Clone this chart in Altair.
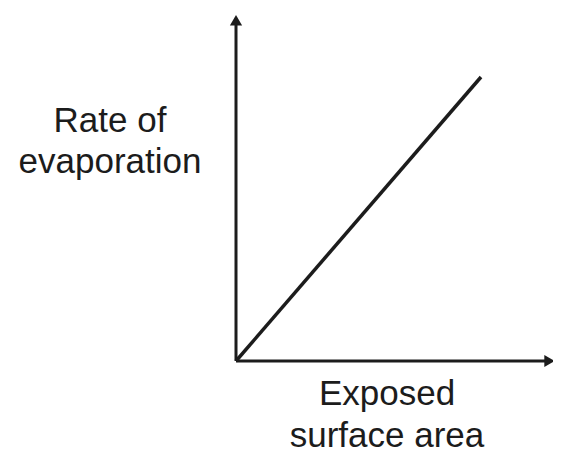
import altair as alt
import pandas as pd

# data
line_x = [0, 10]
line_y = [0, 10]
x_axis_end = 12.8
y_axis_end = 12.0
y_label_lines = ["Rate of", "evaporation"]
x_label_lines = ["Exposed", "surface area"]

INK = "#1c1c1c"
FONT = "Liberation Sans"

xs = alt.Scale(domain=[0, 10], range=[228, 473])
ys = alt.Scale(domain=[0, 10], range=[353, 69])

line_df = pd.DataFrame({"x": line_x, "y": line_y})
axes_df = pd.DataFrame({
    "x": [0, 0], "y": [0, 0],
    "x2": [x_axis_end, 0], "y2": [0, y_axis_end],
})
arrow_df = pd.DataFrame({
    "x": [x_axis_end, 0], "y": [0, y_axis_end],
    "shape": ["triangle-right", "triangle-up"],
})

line = alt.Chart(line_df).mark_line(color=INK, strokeWidth=3.5).encode(
    x=alt.X("x:Q", scale=xs, axis=None),
    y=alt.Y("y:Q", scale=ys, axis=None),
)
axes = alt.Chart(axes_df).mark_rule(color=INK, strokeWidth=3).encode(
    x=alt.X("x:Q", scale=xs, axis=None),
    y=alt.Y("y:Q", scale=ys, axis=None),
    x2="x2:Q", y2="y2:Q",
)
arrows = alt.Chart(arrow_df).mark_point(filled=True, color=INK, opacity=1, size=150).encode(
    x=alt.X("x:Q", scale=xs, axis=None),
    y=alt.Y("y:Q", scale=ys, axis=None),
    shape=alt.Shape("shape:N", scale=None),
)

layers = [axes, line, arrows]

def label(txt, px, py):
    return alt.Chart(pd.DataFrame({"t": [txt]})).mark_text(
        font=FONT, fontSize=35, color=INK, align="center", baseline="alphabetic"
    ).encode(text="t:N", x=alt.value(px), y=alt.value(py))

for i, t in enumerate(y_label_lines):
    layers.append(label(t, 102, 124 + 41 * i))
for i, t in enumerate(x_label_lines):
    layers.append(label(t, 379, 397 + 42 * i))

chart = alt.layer(*layers).properties(
    width=545, height=448, padding=0, autosize=alt.AutoSizeParams(type="none")
).configure_view(stroke=None)

chart.save("out.html", embed_options={"renderer": "svg", "actions": False})
